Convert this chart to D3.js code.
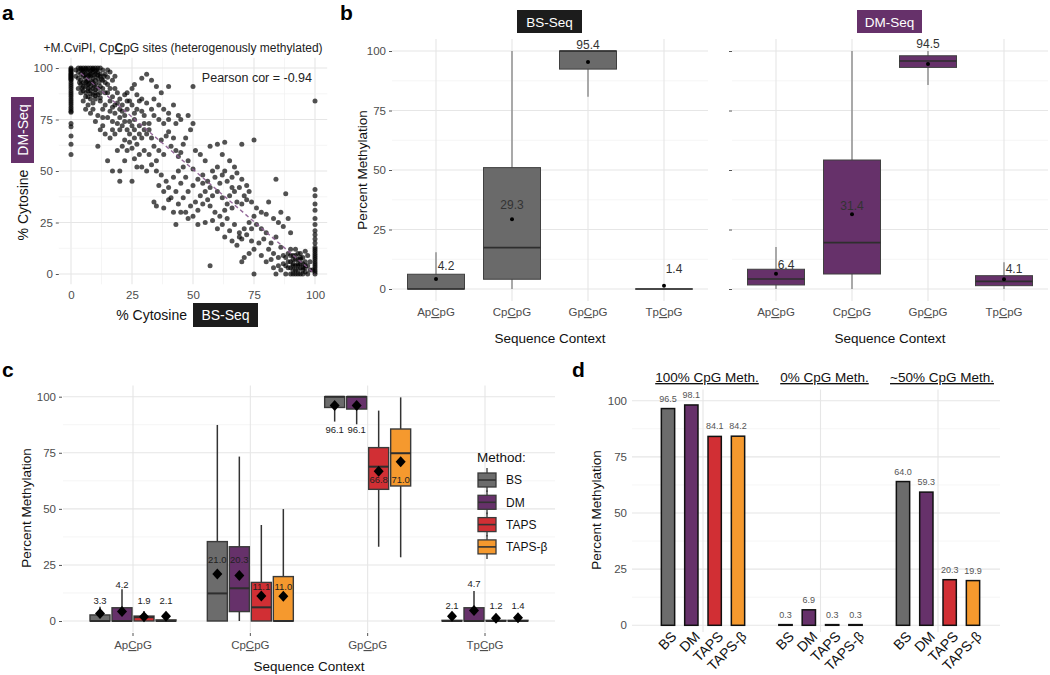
<!DOCTYPE html>
<html><head><meta charset="utf-8">
<script src="https://cdn.jsdelivr.net/npm/d3@7"></script>
<style>body{margin:0;background:#fff}</style>
</head><body><svg id="c" width="1050" height="675"></svg>
<script>
// ---------------- DATA ----------------
const contexts = ["ApCpG","CpCpG","GpCpG","TpCpG"];
const methods = ["BS","DM","TAPS","TAPS-β"];
const methodColors = ["#6c6c6c","#66316a","#d12f34","#f5992e"];
const pctTicks = [0,25,50,75,100];

// panel a: [BS %, DM %] per CpCpG site
const scatterPts = [
[0,100],[0,99.5],[0,99],[0,98.5],[0,98],[0,97.5],[0,97],[0,96.5],[0,96],[0,95.5],[0,95],[0,94.5],[0,94],[0,93],[0,92],[0,91],[0,90],[0,89],[0,88],[0,87],[0,86],[0,85],[0,84],[0,83],[0,82],[0,81],[0,80],[0,79],[0,78.5],[0,73],[0,71.5],[0,67],[0,63],[0,58],
[3,100],[4,100],[5,100],[6,100],[7,100],[8,100],[9,100],[10,100],[11,100],[12,100],[13,99],[4.5,99],[6.5,99],[8.5,99],[10.5,99],
[3,98],[4,97],[5,98],[6,97],[7,98],[8,97],[9,98],[10,97],[11,98],[12,97],[5.5,96.5],[7.5,96.5],[9.5,96.5],
[3,95],[4,94],[5,96],[6,95],[7,94],[8,96],[9,95],[10,94],[11,95],[12,96],[13,94],[6.5,93.5],[8.5,93.5],
[4,92],[5,91],[6,93],[7,92],[8,91],[9,93],[10,92],[11,90],[12,91],
[5,89],[6,88],[7,90],[8,89],[9,87],[10,88],[11,87],[4,88],[6,86],[8,85],[3,90],[2,96],[2,99],[14,97],[15,99],[16,98],[14,93],[13,90],[15,92],[12,88],[7,86],[10,85],[5,84],[9,83],
[4,99.5],[5,98.5],[6,99.5],[7,96],[8,98.5],[9,99.5],[10,98.5],[11,96.5],[6,91],[7,89],[9,90],[10,89.5],[5,93],[7.5,92.5],[9.5,91.5],[11.5,93],[12.5,94.5],[13.5,96],[3.5,93],[4.5,90],[8,87.5],[10,86.5],[12,85.5],[14,88],[16,90],[17,94],[18,96],[15,95.5],
[15,88],[17,86],[18,90],[20,85],[19,83],[16,84],[14,82],[12,84],[13,80],[17,81],[21,82],[22,87],[24,84],[23,80],[25,82],[26,78],[27,80],[28,84],[29,79],[30,77],[18,78],[20,76],[22,77],[24,74],[25,72],[23,70],[21,72],[19,73],[17,74],[15,76],[13,76],[11,77],[9,80],[7,82],[6,80],[8,78],[10,74],[12,70],[14,68],[16,66],[18,68],[20,70],[22,65],[24,68],[26,70],[28,72],[30,70],[31,68],[32,73],[33,66],[29,66],[27,63],[25,61],[23,60],[21,62],[19,60],[11,62],[15,55],[17,50],[20,50],[20,45],[25,45],[22,55],[26,56],[28,58],[30,60],[29,52],[27,52],[32,58],[34,62],[36,60],[35,55],[33,53],[31,50],[38,58],[37,65],[39,67],[40,69],[42,66],[41,62],[43,60],[44,57],[45,59],[46,63],[47,66],[45,75],[44,77],[40,75],[38,73],[36,75],[34,77],[33,80],[31,83],[29,85],[27,87],[25,90],[23,88],[26,92],[29,95],[31,97],[33,94],[35,91],[37,88],[40,91],[50,91],[34,85],[36,82],[38,80],[40,78],[42,82],[43,73],[48,77],[50,73],[49,70],
[19,88],[21,79],[23,84],[16,79],[18,82],[20,80],[22,74],[26,75],[28,68],[30,73],[32,70],[24,64],[26,66],[17,70],[13,72],
[35,50],[37,48],[39,45],[36,43],[38,40],[40,42],[42,47],[44,50],[46,52],[48,55],[50,51],[47,47],[45,44],[43,40],[41,37],[44,34],[46,37],[48,40],[50,43],[52,46],[54,48],[56,45],[58,50],[60,52],[62,48],[64,45],[66,42],[55,40],[53,38],[51,35],[49,33],[47,30],[45,30],[50,28],[52,31],[54,34],[56,36],[58,38],[60,40],[62,37],[64,34],[57,33],[59,30],[61,28],[63,31],[65,38],[67,40],[69,42],[68,35],[66,32],[70,34],[72,36],[58,26],[55,25],[52,24],[43,24],[48,27],[60,22],[62,24],[64,27],[35,33],[34,35],[38,32],[40,36],[42,30],[57,62],[60,63],[62,58],[65,55],[67,52],[55,55],[53,58],[51,60],[63,64],[70,63],[75,65],[54,44],[57,42],[61,44],[59,47],[63,50],[66,47],[68,49],[70,46],[72,43],[73,40],[71,38],[74,35],[76,32],[78,30],[75,28],[73,25],[71,22],[69,20],[67,24],[65,21],[63,18],[66,16],[68,14],[70,17],[72,19],[74,22],[76,24],[78,22],[80,20],[79,17],[77,15],[75,12],[73,10],[71,8],[70,6],[69,18],[74,16],[81,12],[82,15],[84,18],[83,10],[85,8],[86,13],[80,6],[78,9],[57,4],[75,0],[84,46],[88,39],[89,27],[87,23],[85,25],[83,27],[80,29],[81,35],[90,20],[86,30],
[86,2],[87,5],[88,0],[88,8],[89,3],[89,10],[90,0],[90,6],[91,2],[91,9],[92,4],[92,0],[93,7],[93,2],[94,5],[94,0],[95,3],[95,8],[96,1],[96,6],[97,4],[97,0],[98,2],[92,12],[94,10],[90,12],[91,5],[93,4],[92,7],[94,3],[95,5],[96,3],[93,0],[91,0],[95,0],[89,6],[88,4],[87,9],[85,4],[84,0],[83,3],[82,7],[98,6],[97,9],[99,2],[96,11],
[90,3],[91,7],[92,2],[93,5],[94,7],[95,2],[96,4],[92,9],[93,10],[94,8],[91,4],[90,9],
[100,0],[100,1],[100,2],[100,3],[100,4],[100,5],[100,6],[100,7],[100,8],[100,9],[100,10],[100,11],[100,12],[100,13],[100,15],[100,17],[100,19],[100,21],[100,24],[100,27],[100,31],[100,34],[100,38],[100,41],[100,84]
];
const fitLine = {intercept: 101.6, slope: -1.016, from: 4, to: 100};
const pearsonText = "Pearson cor = -0.94";

// panel b: [whiskerLow, q1, median, q3, whiskerHigh, mean]
const bFacets = ["BS-Seq","DM-Seq"];
const bBoxBS = [[0,0,0,6.2,15.4,4.2],[0,4.1,17.4,51,100,29.3],[80.8,92.4,100,100,100,95.4],[0,0,0,0,0,1.4]];
const bBoxDM = [[0,1.7,4.2,8.3,17.6,6.4],[0,6.3,19.5,54.2,100,31.4],[85.7,93.1,95.8,98,100,94.5],[0,1.4,3.2,5.6,11.2,4.1]];
const bLabelYBS = [9.7,35.3,102.5,8.4];
const bLabelYDM = [10.1,34.9,103,8.4];

// panel c: per method, per context [whiskerLow, q1, median, q3, whiskerHigh, mean]
const cBS    = [[0,0,0,2.7,6.4,3.3],[0,0,12.3,35.4,87.4,21.0],[88.9,95.2,100,100,100,96.1],[0,0,0,0.3,0.5,2.1]];
const cDM    = [[0,0,0,5.9,14.2,4.2],[0,4.2,14.6,33.1,73.3,20.3],[87.7,94.5,100,100,100,96.1],[0,0,0,5.9,13.4,4.7]];
const cTAPS  = [[0,0,1.7,2.2,4.5,1.9],[0,0,6.1,17.2,42.8,11.1],[33.1,58.7,68.8,77.3,93.8,66.8],[0,0,0,0.3,0.5,1.2]];
const cTAPSb = [[0,0,0,0.5,1,2.1],[0,0,0,19.8,49.9,11.0],[28.4,60.2,74.8,85.6,99.7,71.0],[0,0,0,0.3,0.5,1.4]];
const cLabelY = [[8.9,27.2,85.5,6.7],[16,27.2,85.5,16.8],[8.9,15.3,63.2,6.7],[8.9,15.3,63.2,6.7]];

// panel d
const dGroups = ["100% CpG Meth.","0% CpG Meth.","~50% CpG Meth."];
const dBS    = [96.5,0.3,64.0];
const dDM    = [98.1,6.9,59.3];
const dTAPS  = [84.1,0.3,20.3];
const dTAPSb = [84.2,0.3,19.9];

// ---------------- DRAW ----------------
const FONT = '"Liberation Sans", Arial, Helvetica, sans-serif';
const svg = d3.select("#c").attr("font-family", FONT);
const GRID_MAJOR = "#e6e6e6", GRID_MINOR = "#f0f0f0";
const TICK_COL = "#4d4d4d";

function ctxText(sel, name){
  sel.text(null);
  sel.append("tspan").text(name.slice(0,2));
  sel.append("tspan").text(name[2]).style("text-decoration","underline");
  sel.append("tspan").text(name.slice(3));
}
function hgrid(g, y, x0, x1){
  [12.5,37.5,62.5,87.5].forEach(v=>g.append("line").attr("x1",x0).attr("x2",x1).attr("y1",y(v)).attr("y2",y(v)).attr("stroke",GRID_MINOR).attr("stroke-width",0.7));
  pctTicks.forEach(v=>g.append("line").attr("x1",x0).attr("x2",x1).attr("y1",y(v)).attr("y2",y(v)).attr("stroke",GRID_MAJOR).attr("stroke-width",1.1));
}
function yAxis(g, y, x, fs, showText){
  const a = g.append("g").attr("transform",`translate(${x},0)`)
    .call(d3.axisLeft(y).tickValues(pctTicks).tickSize(3).tickPadding(3).tickFormat(showText?d3.format("d"):()=>""));
  a.select(".domain").remove();
  a.selectAll("line").attr("stroke","#555");
  a.selectAll("text").attr("font-size",fs).attr("fill",TICK_COL).attr("font-family",FONT);
  return a;
}

// ---- Panel labels
[["a",2,20],["b",340,20],["c",2,377],["d",572,377]].forEach(([t,x,y])=>
  svg.append("text").attr("x",x).attr("y",y).attr("font-size",21).attr("font-weight","bold").text(t));

// ---- Panel a
{
  const g = svg.append("g");
  const x = d3.scaleLinear().domain([0,100]).range([71,315]);
  const y = d3.scaleLinear().domain([0,100]).range([274,68]);
  const X0=x(-5), X1=x(105), Y0=y(105), Y1=y(-5);
  [12.5,37.5,62.5,87.5].forEach(v=>g.append("line").attr("x1",x(v)).attr("x2",x(v)).attr("y1",Y0).attr("y2",Y1).attr("stroke",GRID_MINOR).attr("stroke-width",0.7));
  pctTicks.forEach(v=>g.append("line").attr("x1",x(v)).attr("x2",x(v)).attr("y1",Y0).attr("y2",Y1).attr("stroke",GRID_MAJOR).attr("stroke-width",1.1));
  hgrid(g, y, X0, X1);
  g.append("g").selectAll("circle").data(scatterPts).join("circle")
    .attr("cx",d=>x(d[0])).attr("cy",d=>y(d[1])).attr("r",2.5)
    .attr("fill","#000").attr("fill-opacity",0.68);
  g.append("line").attr("x1",x(fitLine.from)).attr("y1",y(fitLine.intercept+fitLine.slope*fitLine.from))
    .attr("x2",x(fitLine.to)).attr("y2",y(fitLine.intercept+fitLine.slope*fitLine.to))
    .attr("stroke","#8a5a90").attr("stroke-width",1.4).attr("stroke-dasharray","4,3").attr("opacity",0.9);
  yAxis(g, y, X0, 11.5, true);
  const xa = g.append("g").attr("transform",`translate(0,${Y1})`)
    .call(d3.axisBottom(x).tickValues(pctTicks).tickSize(0).tickPadding(7));
  xa.select(".domain").remove();
  xa.selectAll("text").attr("font-size",11.5).attr("fill",TICK_COL);
  g.append("text").attr("x",312).attr("y",82).attr("text-anchor","end").attr("font-size",12.5).attr("fill","#222").text(pearsonText);
  const t = g.append("text").attr("x",183).attr("y",52).attr("text-anchor","middle").attr("font-size",12).attr("fill","#222");
  t.append("tspan").text("+M.CviPI, Cp");
  t.append("tspan").text("C").attr("font-weight","bold").style("text-decoration","underline");
  t.append("tspan").text("pG sites (heterogenously methylated)");
  // axis titles
  g.append("text").attr("x",187).attr("y",320).attr("text-anchor","end").attr("font-size",14).attr("fill","#111").text("% Cytosine");
  g.append("rect").attr("x",193).attr("y",303).attr("width",65).attr("height",24).attr("fill","#1c1c1c");
  g.append("text").attr("x",225.5).attr("y",320).attr("text-anchor","middle").attr("font-size",14).attr("fill","#fff").text("BS-Seq");
  g.append("text").attr("transform","translate(28,205) rotate(-90)").attr("text-anchor","middle").attr("font-size",14).attr("fill","#111").text("% Cytosine");
  g.append("rect").attr("x",11).attr("y",97).attr("width",23).attr("height",66).attr("fill","#66316a");
  g.append("text").attr("transform","translate(27.5,130) rotate(-90)").attr("text-anchor","middle").attr("font-size",14).attr("fill","#fff").text("DM-Seq");
}

// ---- Panel b
{
  const y = d3.scaleLinear().domain([0,100]).range([289,51]);
  const facetRanges = [[392,708],[732,1048]];
  const facetBoxes = [bBoxBS,bBoxDM];
  const facetLabels = [bLabelYBS,bLabelYDM];
  const facetFill = ["#6a6a6a","#66316a"];
  const stripFill = ["#1c1c1c","#66316a"];
  bFacets.forEach((name,fi)=>{
    const g = svg.append("g");
    const [X0,X1] = facetRanges[fi];
    const x = d3.scalePoint().domain(contexts).range([X0+44, X1-44]);
    const bw = 57;
    hgrid(g, y, X0, X1);
    contexts.forEach(c=>g.append("line").attr("x1",x(c)).attr("x2",x(c)).attr("y1",y(105)).attr("y2",y(-5)).attr("stroke",GRID_MAJOR).attr("stroke-width",1.1));
    yAxis(g, y, X0, 11.5, fi===0);
    const boxes = facetBoxes[fi];
    contexts.forEach((c,i)=>{
      const [lo,q1,med,q3,hi,mean] = boxes[i];
      const cx = x(c);
      g.append("line").attr("x1",cx).attr("x2",cx).attr("y1",y(hi)).attr("y2",y(lo)).attr("stroke","#8a8a8a").attr("stroke-width",1.4);
      g.append("rect").attr("x",cx-bw/2).attr("y",y(q3)).attr("width",bw).attr("height",Math.max(y(q1)-y(q3),0.01))
        .attr("fill",facetFill[fi]).attr("stroke","#404040").attr("stroke-width",1);
      g.append("line").attr("x1",cx-bw/2).attr("x2",cx+bw/2).attr("y1",y(med)).attr("y2",y(med)).attr("stroke","#2e2e2e").attr("stroke-width",1.6);
      g.append("circle").attr("cx",cx).attr("cy",y(mean)).attr("r",2).attr("fill","#000");
      const dx = (i===0||i===3)?10:0;
      g.append("text").attr("x",cx+dx).attr("y",y(facetLabels[fi][i])).attr("dy","0.35em").attr("text-anchor","middle")
        .attr("font-size",12).attr("fill","#333").text(mean.toFixed(1));
    });
    contexts.forEach(c=>{
      const t = g.append("text").attr("x",x(c)).attr("y",316).attr("text-anchor","middle").attr("font-size",11.5).attr("fill",TICK_COL);
      ctxText(t,c);
    });
    const cxm = (X0+X1)/2;
    g.append("rect").attr("x",cxm-33).attr("y",10).attr("width",65).attr("height",23).attr("fill",stripFill[fi]);
    g.append("text").attr("x",cxm-0.5).attr("y",26.5).attr("text-anchor","middle").attr("font-size",13.5).attr("fill","#fff").text(name);
    g.append("text").attr("x",cxm).attr("y",343).attr("text-anchor","middle").attr("font-size",13.5).attr("fill","#111").text("Sequence Context");
  });
  svg.append("text").attr("transform","translate(367,170) rotate(-90)").attr("text-anchor","middle").attr("font-size",13.5).attr("fill","#111").text("Percent Methylation");
}

// ---- Panel c
{
  const g = svg.append("g");
  const y = d3.scaleLinear().domain([0,100]).range([621,396.7]);
  const x = d3.scalePoint().domain(contexts).range([133,485]);
  const dodge = d3.scalePoint().domain(methods).range([-33,33]);
  const X0 = 63, X1 = 555;
  const series = [cBS,cDM,cTAPS,cTAPSb];
  hgrid(g, y, X0, X1);
  contexts.forEach(c=>g.append("line").attr("x1",x(c)).attr("x2",x(c)).attr("y1",y(105)).attr("y2",y(-5)).attr("stroke",GRID_MAJOR).attr("stroke-width",1.1));
  yAxis(g, y, X0-1, 11.5, true);
  const bw = 20;
  methods.forEach((m,mi)=>{
    contexts.forEach((c,ci)=>{
      const [lo,q1,med,q3,hi,mean] = series[mi][ci];
      const cx = x(c)+dodge(m);
      g.append("line").attr("x1",cx).attr("x2",cx).attr("y1",y(hi)).attr("y2",y(lo)).attr("stroke","#333").attr("stroke-width",1.5);
      g.append("rect").attr("x",cx-bw/2).attr("y",y(q3)).attr("width",bw).attr("height",Math.max(y(q1)-y(q3),0.01))
        .attr("fill",methodColors[mi]).attr("stroke","#3a3a3a").attr("stroke-width",1.4);
      g.append("line").attr("x1",cx-bw/2).attr("x2",cx+bw/2).attr("y1",y(med)).attr("y2",y(med)).attr("stroke","#2e2e2e").attr("stroke-width",2);
      const my = y(mean);
      g.append("path").attr("d",`M${cx},${my-5.5}L${cx+5},${my}L${cx},${my+5.5}L${cx-5},${my}Z`).attr("fill","#000");
      g.append("text").attr("x",cx).attr("y",y(cLabelY[mi][ci])).attr("dy","0.35em").attr("text-anchor","middle")
        .attr("font-size",9.5).attr("fill","#222").text(mean.toFixed(1));
    });
  });
  contexts.forEach(c=>{
    g.append("line").attr("x1",x(c)).attr("x2",x(c)).attr("y1",633).attr("y2",636).attr("stroke","#555");
    const t = g.append("text").attr("x",x(c)).attr("y",649).attr("text-anchor","middle").attr("font-size",11.5).attr("fill",TICK_COL);
    ctxText(t,c);
  });
  g.append("text").attr("x",309).attr("y",671).attr("text-anchor","middle").attr("font-size",13.5).attr("fill","#111").text("Sequence Context");
  g.append("text").attr("transform","translate(31,508) rotate(-90)").attr("text-anchor","middle").attr("font-size",13.5).attr("fill","#111").text("Percent Methylation");
  // legend
  const lg = g.append("g");
  lg.append("text").attr("x",477).attr("y",462).attr("font-size",13.5).attr("fill","#111").text("Method:");
  methods.forEach((m,i)=>{
    const cy = 480 + i*22.3;
    lg.append("line").attr("x1",487).attr("x2",487).attr("y1",cy-12).attr("y2",cy+12).attr("stroke","#333").attr("stroke-width",1.3);
    lg.append("rect").attr("x",478).attr("y",cy-7).attr("width",18).attr("height",14).attr("fill",methodColors[i]).attr("stroke","#3a3a3a").attr("stroke-width",1.3);
    lg.append("line").attr("x1",478).attr("x2",496).attr("y1",cy).attr("y2",cy).attr("stroke","#333").attr("stroke-width",1.6);
    lg.append("text").attr("x",506).attr("y",cy).attr("dy","0.35em").attr("font-size",12).attr("fill","#111").text(m);
  });
}

// ---- Panel d
{
  const g = svg.append("g");
  const y = d3.scaleLinear().domain([0,100]).range([625.3,400.7]);
  const fx = d3.scalePoint().domain(dGroups).range([703,938]);
  const dx = d3.scalePoint().domain(methods).range([-35,35]);
  const X0 = 632, X1 = 1000;
  const series = [dBS,dDM,dTAPS,dTAPSb];
  hgrid(g, y, X0, X1);
  dGroups.forEach(gr=>g.append("line").attr("x1",fx(gr)).attr("x2",fx(gr)).attr("y1",y(105)).attr("y2",y(-3)).attr("stroke",GRID_MAJOR).attr("stroke-width",1.1));
  const ya = g.append("g").attr("transform",`translate(${X0},0)`).call(d3.axisLeft(y).tickValues(pctTicks).tickSize(0).tickPadding(5));
  ya.select(".domain").remove();
  ya.selectAll("text").attr("font-size",11.5).attr("fill",TICK_COL);
  const bw = 13.3;
  dGroups.forEach((gr,gi)=>{
    methods.forEach((m,mi)=>{
      const v = series[mi][gi];
      const cx = fx(gr)+dx(m);
      g.append("rect").attr("x",cx-bw/2).attr("y",y(v)).attr("width",bw).attr("height",y(0)-y(v))
        .attr("fill",methodColors[mi]).attr("stroke","#111").attr("stroke-width",1.5);
      g.append("text").attr("x",cx).attr("y",y(v+4.5)).attr("dy","0.35em").attr("text-anchor","middle")
        .attr("font-size",9).attr("fill","#555").text(v.toFixed(1));
      g.append("text").attr("transform",`translate(${cx+2},630) rotate(-45)`).attr("dy","0.75em").attr("text-anchor","end")
        .attr("font-size",14).attr("fill","#111").text(m);
    });
    g.append("text").attr("x",fx(gr)+4).attr("y",382).attr("text-anchor","middle").attr("font-size",13.5).attr("fill","#111")
      .style("text-decoration","underline").text(gr);
  });
  g.append("text").attr("transform","translate(601,510) rotate(-90)").attr("text-anchor","middle").attr("font-size",13.5).attr("fill","#111").text("Percent Methylation");
}
</script></body></html>
